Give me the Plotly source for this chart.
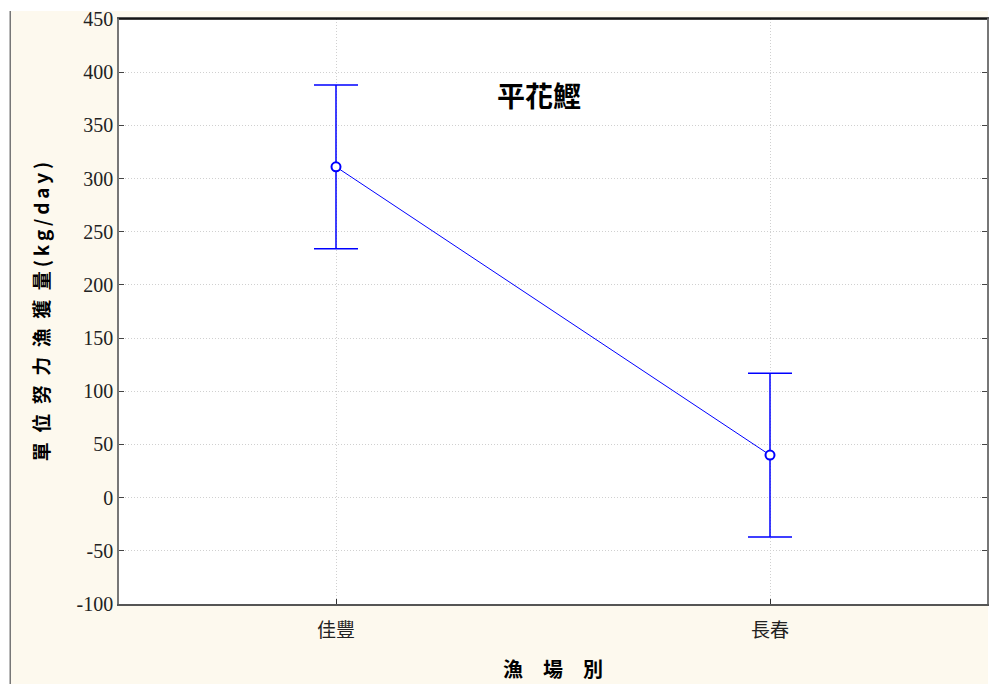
import plotly.graph_objects as go

categories = ["佳豐", "長春"]
means = [311, 40]
err_hi = [77, 77]
err_lo = [77, 77]
y_ticks = [-100, -50, 0, 50, 100, 150, 200, 250, 300, 350, 400, 450]
y_ticktext = ["-100", "-50", "0", "50", "100", "150", "200", "250", "300", "350", "400", "450"]

title_text = "平花鰹"
y_title = "單\u2002位\u2002努\u2002力\u2002漁\u2002獲\u2002量\u2009(\u2009k\u2009g\u2009/\u2009d\u2009a\u2009y\u2009)"
x_title = "漁\u2003場\u2003別"

SERIF = "Liberation Serif, Noto Sans CJK TC, serif"
CREAM = "#fdf9ee"

fig = go.Figure()
fig.add_trace(go.Scatter(
    x=categories, y=means, mode="lines+markers",
    line=dict(color="#0000ff", width=1),
    marker=dict(symbol="circle", size=9, color="white",
                line=dict(color="#0000ff", width=2)),
    error_y=dict(type="data", symmetric=False, array=err_hi, arrayminus=err_lo,
                 color="#0000ff", thickness=1.5, width=22),
    showlegend=False,
))

fig.update_layout(
    width=990, height=684,
    margin=dict(l=119, r=1, t=19, b=80),
    paper_bgcolor="white",
    plot_bgcolor="rgba(0,0,0,0)",
    font=dict(family=SERIF, color="black"),
    shapes=[
        dict(type="rect", xref="paper", yref="paper", layer="below",
             x0=-109/870, x1=1 + 1/870, y0=-80/585, y1=1 + 8/585,
             fillcolor=CREAM, line=dict(width=0)),
        dict(type="line", xref="paper", yref="paper", layer="below",
             x0=-109/870, x1=-109/870, y0=-80/585, y1=1 + 8/585,
             line=dict(color="#777777", width=1.5)),
        dict(type="rect", xref="paper", yref="paper", layer="below",
             x0=0, x1=1, y0=0, y1=1, fillcolor="white", line=dict(width=0)),
        dict(type="line", xref="paper", yref="paper",
             x0=0, x1=1, y0=1, y1=1, line=dict(color="black", width=1.5)),
    ],
    annotations=[
        dict(text="<b>" + title_text + "</b>", xref="paper", yref="paper",
             x=0.484, y=0.87, xanchor="center", yanchor="middle", showarrow=False,
             font=dict(family="Noto Sans CJK TC", size=28, color="black")),
    ],
)

fig.update_xaxes(
    type="category", range=[-0.5, 1.5],
    showgrid=True, gridcolor="#d0d0d0", griddash="1px,2px", gridwidth=1,
    showline=True, linecolor="#555555", linewidth=1.5, mirror=True,
    ticks="inside", ticklen=5, tickcolor="#333333", ticklabelstandoff=8,
    tickfont=dict(family="Noto Sans CJK TC", size=19, color="#222222"),
    title=dict(text="<b>" + x_title + "</b>", standoff=22,
               font=dict(family="Noto Sans CJK TC", size=20, color="black")),
    zeroline=False,
)
fig.update_yaxes(
    range=[-100, 450], tickvals=y_ticks, ticktext=y_ticktext,
    showgrid=True, gridcolor="#d0d0d0", griddash="1px,2px", gridwidth=1,
    showline=True, linecolor="#777777", linewidth=1.5, mirror="ticks",
    ticks="inside", ticklen=5, tickcolor="#444444",
    tickfont=dict(family=SERIF, size=20, color="#222222"),
    title=dict(text="<b>" + y_title + "</b>", standoff=22,
               font=dict(family="Noto Sans CJK TC", size=19, color="black")),
    zeroline=False,
)

fig.write_html("out.html")
